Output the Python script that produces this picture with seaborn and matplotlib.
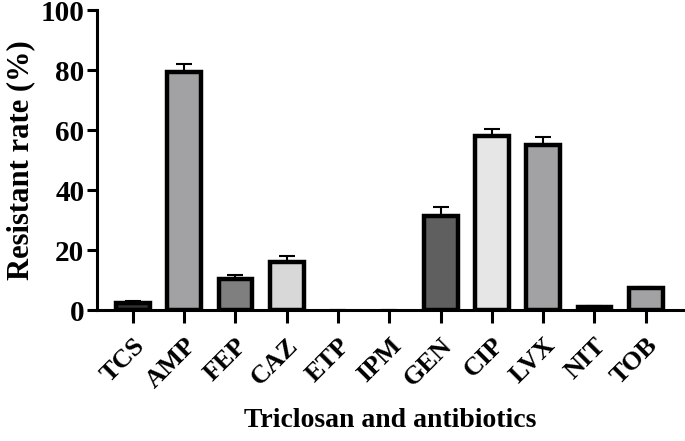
import matplotlib
matplotlib.use('Agg')
import matplotlib.pyplot as plt
import seaborn as sns
import pandas as pd
import numpy as np

# Données
agents = ['TCS', 'AMP', 'FEP', 'CAZ', 'ETP', 'IPM', 'GEN', 'CIP', 'LVX', 'NIT', 'TOB']
resistance = [2.5, 79.5, 10.5, 16.0, 0.0, 0.0, 31.5, 58.0, 55.0, 0.9, 7.3]
sem = [0.6, 2.6, 1.3, 2.0, 0.0, 0.0, 3.0, 2.4, 2.8, 0.5, 0.5]
colors = ['#303030', '#a1a1a6', '#7f7f7f', '#d8d8d8', '#a1a1a6', '#a1a1a6',
          '#5f5f5f', '#e6e6e6', '#a1a1a6', '#303030', '#a1a1a6']

sns.set_style('ticks')
plt.rcParams['font.family'] = ['Liberation Serif', 'DejaVu Serif']
plt.rcParams['font.weight'] = 'bold'
plt.rcParams['text.color'] = 'black'
plt.rcParams['axes.labelcolor'] = 'black'
plt.rcParams['xtick.color'] = 'black'
plt.rcParams['ytick.color'] = 'black'
plt.rcParams['axes.edgecolor'] = 'black'

df = pd.DataFrame({'agent': agents, 'rate': resistance})

fig = plt.figure(figsize=(6.85, 4.41), dpi=100)
ax = fig.add_axes([0.1416, 0.297, 0.855, 0.68])

sns.barplot(data=df, x='agent', y='rate', hue='agent', palette=colors,
            width=0.66, edgecolor='black', linewidth=3.2, legend=False,
            errorbar=None, ax=ax, zorder=2)

# pas de contour pour les barres nulles
for p in ax.patches:
    if p.get_height() == 0:
        p.set_linewidth(0)

x = np.arange(len(agents))
ax.errorbar(x, resistance, yerr=[np.zeros(len(sem)), sem], fmt='none',
            ecolor='black', elinewidth=1.5, capsize=6, capthick=1.5, zorder=1)

ax.set_ylim(0, 100)
ax.set_xlim(-0.7, 10.72)
ax.set_yticks([0, 20, 40, 60, 80, 100])
ax.set_xlabel('Triclosan and antibiotics', fontsize=20, fontweight='bold', labelpad=11)
ax.set_ylabel('Resistant rate (%)', fontsize=22, fontweight='bold', labelpad=4)

ax.tick_params(axis='y', labelsize=21, width=2.2, length=7, pad=2)
ax.tick_params(axis='x', labelsize=19, width=2.2, length=9, pad=8)
plt.setp(ax.get_xticklabels(), rotation=45, ha='right', rotation_mode='anchor')
for lab in ax.get_xticklabels() + ax.get_yticklabels():
    lab.set_fontweight('bold')

sns.despine(ax=ax)
for side in ['left', 'bottom']:
    ax.spines[side].set_linewidth(2.2)

plt.savefig('out.png', dpi=100)
plt.close()
